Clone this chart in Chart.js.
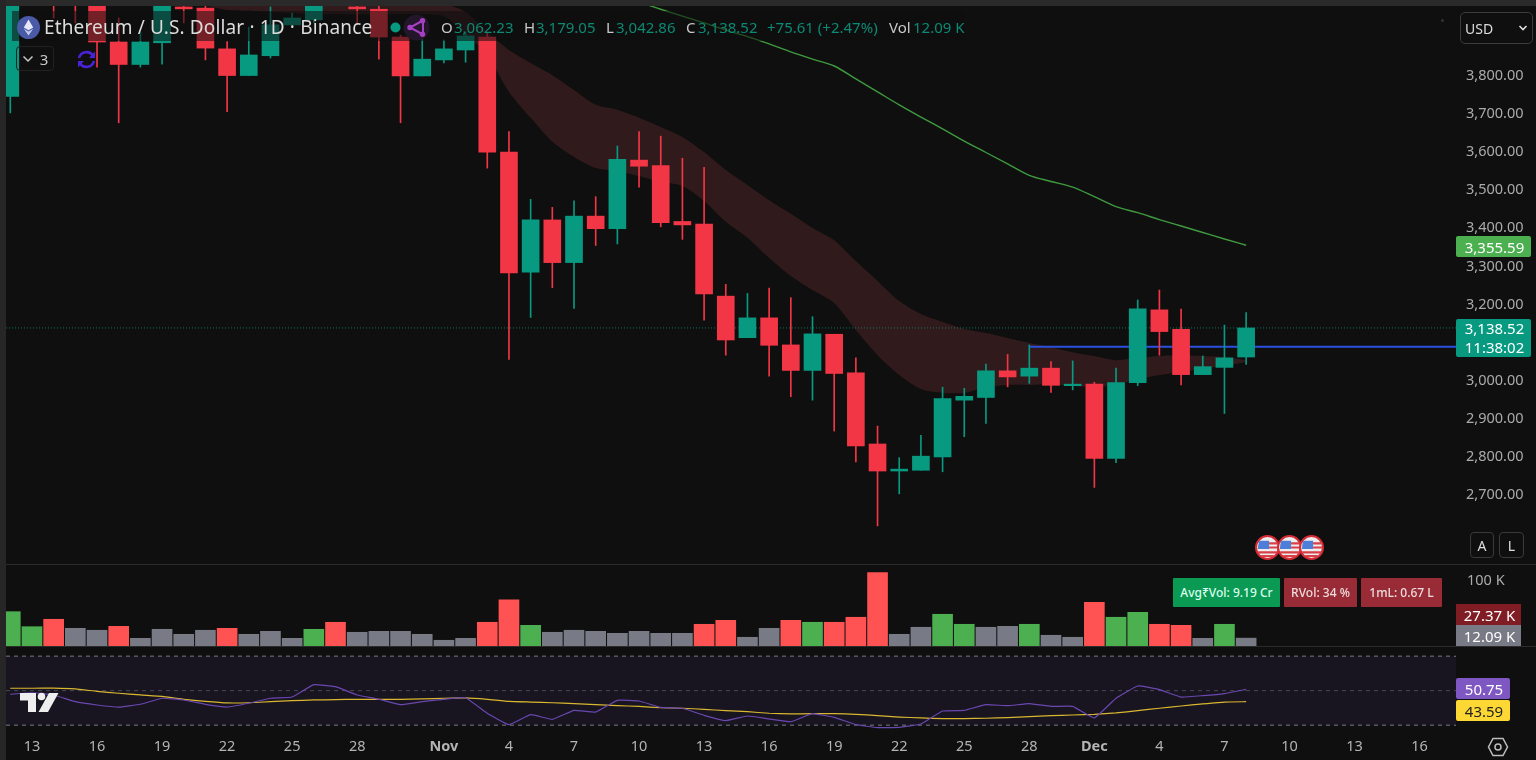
<!DOCTYPE html>
<html><head><meta charset="utf-8">
<script src="https://cdn.jsdelivr.net/npm/chart.js@4/dist/chart.umd.min.js"></script>
<style>
html,body{margin:0;padding:0;background:#0f0f0f;overflow:hidden;width:1536px;height:760px;font-family:"Noto Sans",sans-serif}
canvas{position:absolute;display:block}
.o{position:absolute;white-space:nowrap;line-height:1}
.box{position:absolute;display:flex;align-items:center;justify-content:center;white-space:nowrap;box-sizing:border-box}
.lv{font-size:15px;color:#c8c8c8;top:20px}
.vv{font-size:15px;color:#0b8a74;top:20px}
.tag{font-size:15px;color:#fff;padding-left:2px}
</style></head><body>
<div class="o" style="left:0;top:0;width:1536px;height:6px;background:#2a2a2a"></div>
<div class="o" style="left:0;top:0;width:6px;height:760px;background:#262626"></div>
<canvas id="priceC" style="left:6px;top:6px"></canvas>
<canvas id="volC" style="left:6px;top:565px"></canvas>
<canvas id="rsiC" style="left:6px;top:647px"></canvas>
<div class="o" style="left:6px;top:564px;width:1530px;height:1px;background:#2b2b2b"></div>
<div class="o" style="left:6px;top:646px;width:1530px;height:1px;background:#2b2b2b"></div>

<div class="o" style="left:12px;top:11px;width:953px;height:30px;background:rgba(15,15,15,.55)"></div>
<svg class="o" style="left:17px;top:16px" width="23" height="23" viewBox="0 0 23 23"><circle cx="11.5" cy="11.5" r="11.5" fill="#4a5aa6"/><path d="M11.5 3.5 6.8 11.5 11.5 14.3 16.2 11.5Z" fill="#e4e8f7"/><path d="M6.8 12.8 11.5 19.5 16.2 12.8 11.5 15.6Z" fill="#c3cbec"/></svg>
<div class="o" id="title" style="left:44px;top:18px;font-size:19px;letter-spacing:.14px;color:#dcdcdc">Ethereum / U.S. Dollar · 1D · Binance</div>
<svg class="o" style="left:388px;top:14px" width="44" height="27" viewBox="0 0 44 27"><circle cx="7.5" cy="13.5" r="5" fill="#089981"/><circle cx="28.5" cy="13.5" r="13" fill="#24162a"/><path d="M35 6.5 22 13.5 35 20.5Z" fill="none" stroke="#a63fc4" stroke-width="2"/><circle cx="34.5" cy="6.8" r="2.7" fill="#a63fc4"/><circle cx="22" cy="13.5" r="2.7" fill="#a63fc4"/><circle cx="34.5" cy="20.2" r="2.7" fill="#a63fc4"/></svg>
<span class="o lv" style="left:441px">O</span><span class="o vv" style="left:454px">3,062.23</span>
<span class="o lv" style="left:524px">H</span><span class="o vv" style="left:536px">3,179.05</span>
<span class="o lv" style="left:606px">L</span><span class="o vv" style="left:616px">3,042.86</span>
<span class="o lv" style="left:686px">C</span><span class="o vv" style="left:698px">3,138.52</span>
<span class="o vv" style="left:767px">+75.61 (+2.47%)</span>
<span class="o lv" style="left:889px">Vol</span><span class="o vv" style="left:913px">12.09 K</span>

<div class="box" style="left:16px;top:46px;width:38px;height:25px;border:1px solid #222;border-radius:4px;color:#c8c8c8;font-size:15px;gap:6px"><svg width="12" height="8" viewBox="0 0 12 8"><path d="M1.5 1.5 6 6 10.5 1.5" fill="none" stroke="#c8c8c8" stroke-width="1.5"/></svg><span>3</span></div>
<svg class="o" style="left:76px;top:49px" width="21" height="21" viewBox="0 0 21 21"><path d="M3 9A7.8 7.8 0 0 1 17 6.5M18 12A7.8 7.8 0 0 1 4 14.5" fill="none" stroke="#4b22d6" stroke-width="2.6"/><path d="M19 2.5V9H13Z M2 18.5V12H8Z" fill="#4b22d6"/></svg>
<div class="o" style="left:1441px;top:19px;width:3px;height:3px;border-radius:50%;background:#333"></div>

<div class="box" style="left:1460px;top:12px;width:73px;height:32px;border:1.5px solid #3c3c3c;border-radius:5px;color:#dcdcdc;font-size:14px;justify-content:flex-start;padding-left:4px">USD<svg style="position:absolute;left:57px;top:11px" width="10" height="8" viewBox="0 0 10 8"><path d="M1.5 2 5 5.5 8.5 2" fill="none" stroke="#ddd" stroke-width="1.6"/></svg></div>
<div class="box tag" style="left:1456px;top:236px;width:75px;height:21px;background:#4caf50;border-radius:2px">3,355.59</div>
<div class="box tag" style="left:1456px;top:319px;width:75px;height:38px;background:#089981;border-radius:2px;flex-direction:column;line-height:19px">3,138.52<span>11:38:02</span></div>
<div class="box" style="left:1470px;top:532px;width:24px;height:26px;border:1px solid #3a3a3a;border-radius:4px;color:#ddd;font-size:14px">A</div>
<div class="box" style="left:1499px;top:532px;width:25px;height:26px;border:1px solid #3a3a3a;border-radius:4px;color:#ddd;font-size:14px">L</div>
<svg width="0" height="0" style="position:absolute"><symbol id="flag" viewBox="0 0 24 24"><circle cx="12" cy="12" r="11" fill="#eee" stroke="#d62b35" stroke-width="2"/><path d="M4.2 5.5H13.5V13.5H2.8Q2.9 9 4.2 5.5Z" fill="#4d7fd8"/><path d="M13.5 7h8v2h-8zM13.5 11h8.8v2h-8.8zM3 15.5h18.4v2.2H3zM6 19.3h12v1.7H6z" fill="#d8414a"/></symbol></svg>
<svg class="o" style="left:1255px;top:535px" width="25" height="25"><use href="#flag"/></svg>
<svg class="o" style="left:1277px;top:535px" width="25" height="25"><use href="#flag"/></svg>
<svg class="o" style="left:1299px;top:535px" width="25" height="25"><use href="#flag"/></svg>

<div class="box" style="left:1173px;top:578px;width:107px;height:29px;background:#0a9a54;color:#dfe;font-size:12px;font-weight:500;border-radius:1px">Avg₹Vol: 9.19 Cr</div>
<div class="box" style="left:1284px;top:578px;width:73px;height:29px;background:#992b36;color:#eedcdc;font-size:12px;font-weight:500;border-radius:1px">RVol: 34 %</div>
<div class="box" style="left:1361px;top:578px;width:81px;height:29px;background:#992b36;color:#eedcdc;font-size:12px;font-weight:500;border-radius:1px">1mL: 0.67 L</div>
<div class="box tag" style="left:1456px;top:604px;width:65px;height:21px;background:#801c24">27.37 K</div>
<div class="box tag" style="left:1456px;top:625px;width:65px;height:21px;background:#787b86">12.09 K</div>
<div class="box tag" style="left:1456px;top:678px;width:54px;height:21px;background:#7e57c2;border-radius:2px">50.75</div>
<div class="box" style="left:1456px;top:700px;width:54px;height:21px;background:#fdd835;border-radius:2px;color:#222;font-size:15px;padding-left:2px">43.59</div>

<svg class="o" style="left:20px;top:692px" width="39" height="21" viewBox="0 0 39 21"><path d="M0 1H16V20H8V8.5H0Z" fill="#eee"/><circle cx="21.5" cy="4.5" r="3.8" fill="#eee"/><path d="M29 1H38.5L28 20H18.5Z" fill="#eee"/></svg>
<svg class="o" style="left:1487px;top:736px" width="22" height="22" viewBox="0 0 22 22"><path d="M6 2.5H16L20.5 11 16 19.5H6L1.5 11Z" fill="none" stroke="#bdbdbd" stroke-width="1.5"/><circle cx="11" cy="11" r="3" fill="none" stroke="#bdbdbd" stroke-width="1.5"/></svg>

<script>
// ---- data ----
const dayCount = 58; // 12 Oct .. 8 Dec
const openP = [3746,4020,4040,4030,4000,3889,3830,3887,3981,3978,3871,3801,3853,3934,3947,4000,3981,3975,3902,3800,3842,3868,3902,3600,3285,3422,3310,3432,3399,3579,3565,3418,3411,3222,3113,3165,3094,3027,3122,3021,2834,2763,2765,2800,2949,2956,3026,3012,3033,2987,2991,2796,2995,3186,3135,3016,3035,3062.23];
const highP = [4040,4090,4060,4050,4020,3952,3915,4010,3995,3990,3890,3928,3981,3965,4010,4040,3990,3985,3907,3900,3894,3915,3913,3654,3476,3455,3472,3483,3616,3654,3642,3584,3560,3253,3229,3243,3218,3168,3122,3060,2881,2798,2857,2983,2980,3044,3069,3094,3050,3052,2996,3033,3212,3238,3188,3065,3146,3179.05];
const lowP = [3703,4000,3952,3939,3823,3677,3823,3831,3939,3842,3706,3801,3847,3930,3940,3990,3934,3844,3677,3800,3834,3836,3558,3056,3166,3244,3190,3355,3359,3508,3404,3371,3159,3067,3113,3012,2958,2949,2868,2787,2619,2703,2765,2761,2853,2888,2984,2993,2969,2976,2720,2785,2987,3067,2989,3016,2914,3042.86];
const closeP = [4020,4060,4000,4000,3889,3830,3889,3995,3976,3873,3801,3855,3934,3952,3995,4020,3976,3902,3800,3844,3871,3905,3600,3283,3422,3310,3432,3399,3581,3563,3415,3409,3228,3107,3165,3093,3027,3123,3019,2829,2763,2768,2802,2953,2959,3026,3010,3033,2988,2991,2796,2995,3189,3129,3016,3037,3060,3138.52];

const bandStart = 9;
const bandUpper = [4000,4000,4000,4000,4000,4000,4000,4000,4000,4000,4000,3990,3968,3915,3868,3834,3802,3763,3724,3711,3690,3666,3640,3600,3553,3514,3474,3438,3401,3369,3314,3262,3209,3175,3154,3136,3125,3112,3099,3088,3075,3065,3054,3060,3065,3067,3065,3062,3054];
const bandLower = [3985,3973,3971,3968,3965,3962,3962,3962,3962,3962,3962,3957,3910,3855,3758,3690,3627,3587,3558,3550,3537,3522,3511,3472,3417,3375,3322,3275,3238,3204,3133,3067,3015,2978,2968,2968,2983,2989,2989,2991,2986,2983,2989,3004,3015,3023,3031,3039,3049];

const maStart = 28;
const maLine = [4015,3994,3975,3957,3939,3920,3903,3884,3863,3844,3826,3792,3758,3724,3692,3661,3629,3599,3569,3539,3523,3508,3483,3457,3441,3423,3406,3389,3372,3355.59];

const lastPrice = 3138.52;
const levelPrice = 3089;
const levelStart = 47;

const volumes = [52.8,29.7,41.1,27.2,24.2,30.3,11.8,25.7,18,24.2,27.2,18,22.6,11.8,25.7,36.5,21.1,22.6,22.6,18,8.8,11.8,36.5,71.2,31.8,21.1,24.2,22.6,19.5,22.6,19.5,19.5,33.4,39.5,13.4,27.2,39.5,36.5,36.5,44.2,112.8,18,28.8,48.8,33.4,28.8,30.3,33.4,16.5,13.4,67.2,44.2,51.8,33.4,31.8,11.8,33.4,12.09];
const volKinds = ['u','u','d','n','n','d','n','n','n','n','d','n','n','n','u','d','n','n','n','n','n','n','d','d','u','n','n','n','n','n','n','n','d','d','n','n','d','u','d','d','d','n','n','u','u','n','n','u','n','n','d','u','u','d','d','n','u','n'];

const rsiLine = [47.9,48.8,47.5,43.6,41.7,40.5,42.1,45.6,44.6,42.1,40.5,42.7,45.6,46.3,53.5,52.3,47.5,45,41.9,43.6,45,45.9,36.9,30.3,36.1,33.4,38.6,37.6,44.4,44,40.3,39.8,35.7,32.6,35.3,33.6,32,36.7,34.5,30.3,28.6,28.7,30.7,38.2,38.6,41.9,41.3,42.5,40.9,40.9,34.2,45.6,52.7,50.6,46.3,47.1,48.3,50.75];
const rsiAvg = [51.4,51.4,51.5,51,49.6,48.5,47.5,46.7,45,43.8,42.9,43,43.6,44.2,44.6,44.8,45,45,45,45.2,45.6,45.8,45,43.8,43.4,43,42.5,41.9,41.3,40.9,40.1,39.8,39.2,38.4,37.8,36.9,36.5,36.7,36.7,36.3,35.5,34.7,34.2,33.8,33.8,34,34.4,34.9,35.5,35.9,36.3,37.1,38.4,39.8,41.1,42.3,43.4,43.59];
const rsiLevels = [70,50,30];

const priceTicks = [2700,2800,2900,3000,3200,3300,3400,3500,3600,3700,3800];
const volTicks = [100];
const dayTicks = [1,4,7,10,13,16,20,23,26,29,32,35,38,41,44,47,50,53,56,59,62,65];
const dayLabels = ['13','16','19','22','25','28','Nov','4','7','10','13','16','19','22','25','28','Dec','4','7','10','13','16'];
const monthLabels = ['Nov','Dec'];

// ---- styling ----
const GREEN='#089981', RED='#f23645', VOLC={u:'#4caf50',d:'#ff5252',n:'#787b86'};
const FONT='"Noto Sans",sans-serif';
const xMin=-0.198, xMax=66.68;
const idx=Array.from({length:dayCount},(_,i)=>i);
const up=i=>closeP[i]>=openP[i];
const fit=s=>{s.width=80;s.paddingTop=0;s.paddingBottom=0;if(s._margins){s._margins.top=0;s._margins.bottom=0}};
Chart.defaults.animation=false;
Chart.defaults.responsive=false;
Chart.defaults.font.family=FONT;
const plugins={legend:{display:false},tooltip:{enabled:false}};
const xHidden={type:'linear',min:xMin,max:xMax,offset:false,display:false,grid:{display:false}};
function setSize(id,w,h){const c=document.getElementById(id);c.width=w;c.height=h;c.style.width=w+'px';c.style.height=h+'px';return c;}

const priceChart=new Chart(setSize('priceC',1530,558),{
  type:'bar',
  data:{datasets:[
    {type:'line',order:6,data:bandUpper.map((v,k)=>({x:bandStart+k,y:v})),fill:'+1',backgroundColor:'#311a1b',borderWidth:0,pointRadius:0,tension:.25},
    {type:'line',order:6,data:bandLower.map((v,k)=>({x:bandStart+k,y:v})),fill:false,borderWidth:0,pointRadius:0,tension:.25},
    {type:'line',order:5,data:maLine.map((v,k)=>({x:maStart+k,y:v})),borderColor:'#3f9a3f',borderWidth:1.4,pointRadius:0,cubicInterpolationMode:'monotone',fill:false},
    {type:'line',order:4,data:[{x:xMin,y:lastPrice},{x:xMax,y:lastPrice}],borderColor:'rgba(8,153,129,.7)',borderWidth:1,borderDash:[1,2],pointRadius:0,fill:false},
    {type:'line',order:3,data:[{x:levelStart,y:levelPrice},{x:xMax,y:levelPrice}],borderColor:'#2b50e0',borderWidth:2,pointRadius:0,fill:false},
    {order:2,grouped:false,barThickness:1,data:idx.map(i=>({x:i,y:[lowP[i],highP[i]]})),backgroundColor:idx.map(i=>up(i)?GREEN:RED),borderWidth:0},
    {order:1,grouped:false,barThickness:17,data:idx.map(i=>({x:i,y:[openP[i],closeP[i]]})),backgroundColor:idx.map(i=>up(i)?GREEN:RED),borderWidth:0}
  ]},
  options:{layout:{autoPadding:false,padding:0},plugins,
    scales:{x:xHidden,
      y:{position:'right',min:2519,max:3983.5,afterFit:fit,
         afterBuildTicks:s=>{s.ticks=priceTicks.map(v=>({value:v}))},
         grid:{display:false,drawTicks:false},border:{display:false},
         ticks:{color:'#ababab',font:{size:14.5},padding:10,autoSkip:false,callback:v=>v.toLocaleString('en-US',{minimumFractionDigits:2,maximumFractionDigits:2})}}}}
});

const volChart=new Chart(setSize('volC',1530,81),{
  type:'bar',
  data:{datasets:[{grouped:false,barThickness:20,data:idx.map(i=>({x:i,y:volumes[i]})),backgroundColor:idx.map(i=>VOLC[volKinds[i]]),borderWidth:0}]},
  options:{layout:{autoPadding:false,padding:0},plugins,
    scales:{x:xHidden,
      y:{position:'right',min:0,max:124.6,afterFit:fit,
         afterBuildTicks:s=>{s.ticks=volTicks.map(v=>({value:v}))},
         grid:{display:false,drawTicks:false},border:{display:false},
         ticks:{color:'#ababab',font:{size:14.5},padding:11,autoSkip:false,callback:v=>v+' K'}}}}
});

const rsiBack={id:'rsiBack',beforeDatasetsDraw(ch){
  const {ctx,chartArea:a,scales:{y}}=ch;
  ctx.save();ctx.fillStyle='#181420';
  ctx.fillRect(a.left,y.getPixelForValue(rsiLevels[0]),a.right-a.left,y.getPixelForValue(rsiLevels[2])-y.getPixelForValue(rsiLevels[0]));
  ctx.restore();
}};
const rsiChart=new Chart(setSize('rsiC',1530,113),{
  type:'line',
  plugins:[rsiBack],
  data:{datasets:[
    {order:4,data:[{x:xMin,y:rsiLevels[0]},{x:xMax,y:rsiLevels[0]}],borderColor:'#787b86',borderWidth:1,borderDash:[4,4],pointRadius:0},
    {order:4,data:[{x:xMin,y:rsiLevels[1]},{x:xMax,y:rsiLevels[1]}],borderColor:'#4a4855',borderWidth:1,borderDash:[4,4],pointRadius:0},
    {order:4,data:[{x:xMin,y:rsiLevels[2]},{x:xMax,y:rsiLevels[2]}],borderColor:'#787b86',borderWidth:1,borderDash:[4,4],pointRadius:0},
    {order:1,data:idx.map(i=>({x:i,y:rsiLine[i]})),borderColor:'#6a48b0',borderWidth:1.2,pointRadius:0,tension:.1},
    {order:2,data:idx.map(i=>({x:i,y:rsiAvg[i]})),borderColor:'#d9b730',borderWidth:1.2,pointRadius:0,tension:.1}
  ]},
  options:{layout:{autoPadding:false,padding:0},plugins,
    scales:{
      x:{type:'linear',min:xMin,max:xMax,offset:false,afterFit:s=>{s.height=25;s.paddingLeft=0;s.paddingRight=0;if(s._margins){s._margins.left=0;s._margins.right=0}},
         afterBuildTicks:s=>{s.ticks=dayTicks.map(v=>({value:v}))},
         grid:{display:false,drawTicks:false},border:{display:false},
         ticks:{color:'#b4b4b4',padding:3,autoSkip:false,maxRotation:0,
           font:c=>{const t=dayLabels[dayTicks.indexOf(c.tick&&c.tick.value)];return {size:14.5,weight:monthLabels.includes(t)?'bold':'normal'}},
           callback:v=>dayLabels[dayTicks.indexOf(v)]}},
      y:{position:'right',min:24.3,max:75.3,afterFit:fit,display:true,grid:{display:false,drawTicks:false},border:{display:false},ticks:{display:false}}}}
});
</script>
</body></html>
